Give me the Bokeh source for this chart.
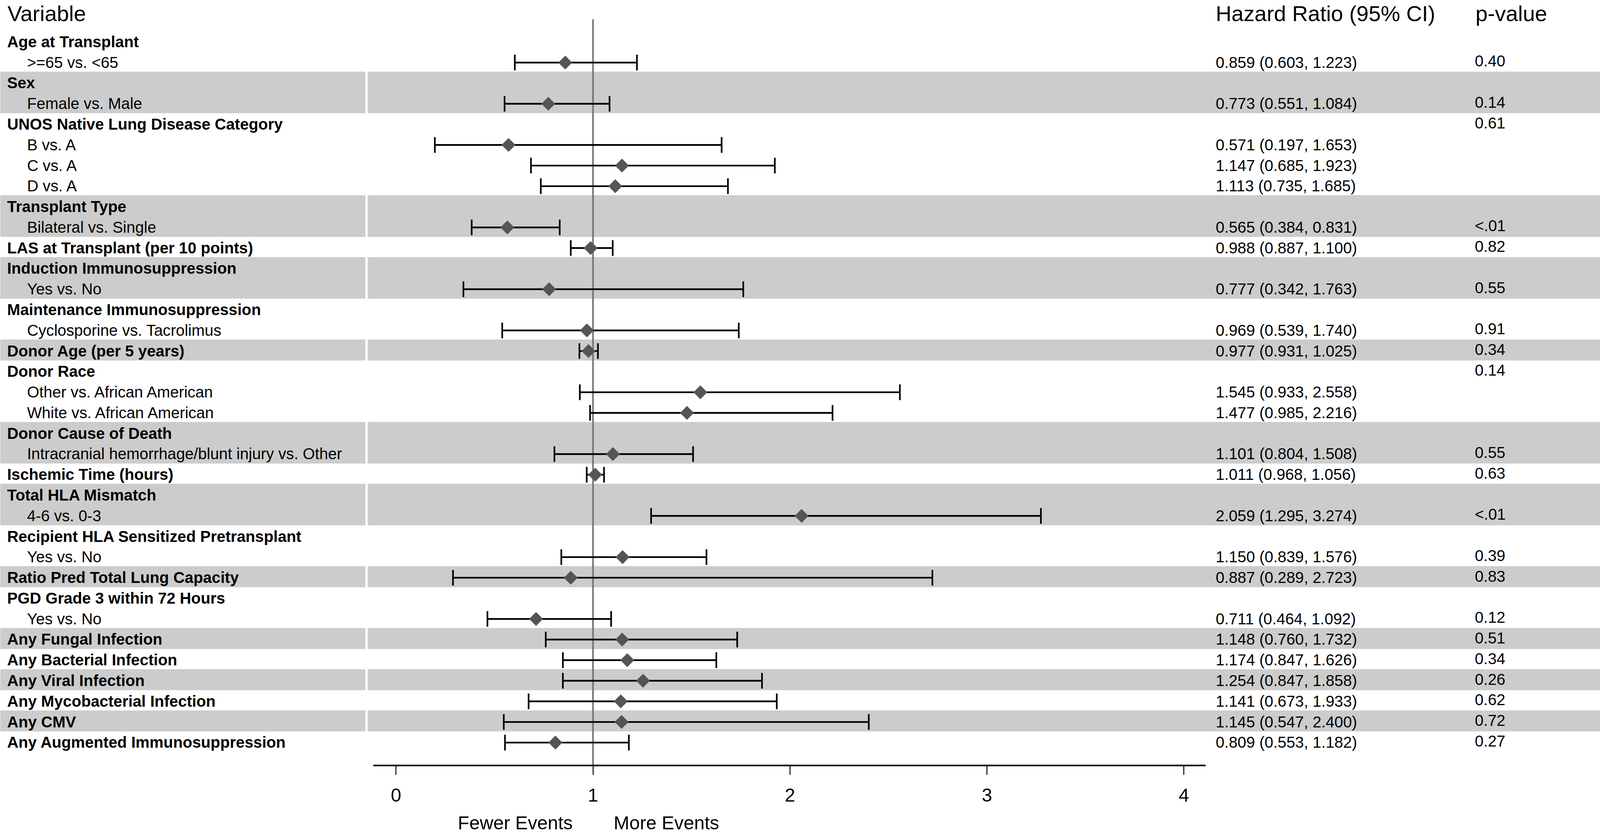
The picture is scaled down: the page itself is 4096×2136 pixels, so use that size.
import numpy as np
from bokeh.plotting import figure
from bokeh.models import ColumnDataSource, Range1d, LinearAxis, FixedTicker
from bokeh.core.properties import value
from bokeh.embed import file_html
from bokeh.resources import INLINE

# ---------------- data ----------------
row_labels = [
    "Age at Transplant", ">=65 vs. <65",
    "Sex", "Female vs. Male",
    "UNOS Native Lung Disease Category", "B vs. A", "C vs. A", "D vs. A",
    "Transplant Type", "Bilateral vs. Single",
    "LAS at Transplant (per 10 points)",
    "Induction Immunosuppression", "Yes vs. No",
    "Maintenance Immunosuppression", "Cyclosporine vs. Tacrolimus",
    "Donor Age (per 5 years)",
    "Donor Race", "Other vs. African American", "White vs. African American",
    "Donor Cause of Death", "Intracranial hemorrhage/blunt injury vs. Other",
    "Ischemic Time (hours)",
    "Total HLA Mismatch", "4-6 vs. 0-3",
    "Recipient HLA Sensitized Pretransplant", "Yes vs. No",
    "Ratio Pred Total Lung Capacity",
    "PGD Grade 3 within 72 Hours", "Yes vs. No",
    "Any Fungal Infection",
    "Any Bacterial Infection",
    "Any Viral Infection",
    "Any Mycobacterial Infection",
    "Any CMV",
    "Any Augmented Immunosuppression",
]
row_level = [0, 1, 0, 1, 0, 1, 1, 1, 0, 1, 0, 0, 1, 0, 1, 0, 0, 1, 1, 0, 1, 0,
             0, 1, 0, 1, 0, 0, 1, 0, 0, 0, 0, 0, 0]

est_rows = [1, 3, 5, 6, 7, 9, 10, 12, 14, 15, 17, 18, 20, 21, 23, 25, 26, 28,
            29, 30, 31, 32, 33, 34]
hr = [0.859, 0.773, 0.571, 1.147, 1.113, 0.565, 0.988, 0.777, 0.969, 0.977,
      1.545, 1.477, 1.101, 1.011, 2.059, 1.150, 0.887, 0.711, 1.148, 1.174,
      1.254, 1.141, 1.145, 0.809]
ci_lo = [0.603, 0.551, 0.197, 0.685, 0.735, 0.384, 0.887, 0.342, 0.539, 0.931,
         0.933, 0.985, 0.804, 0.968, 1.295, 0.839, 0.289, 0.464, 0.760, 0.847,
         0.847, 0.673, 0.547, 0.553]
ci_hi = [1.223, 1.084, 1.653, 1.923, 1.685, 0.831, 1.100, 1.763, 1.740, 1.025,
         2.558, 2.216, 1.508, 1.056, 3.274, 1.576, 2.723, 1.092, 1.732, 1.626,
         1.858, 1.933, 2.400, 1.182]

p_rows = [1, 3, 4, 9, 10, 12, 14, 15, 16, 20, 21, 23, 25, 26, 28, 29, 30, 31,
          32, 33, 34]
p_text = ["0.40", "0.14", "0.61", "<.01", "0.82", "0.55", "0.91", "0.34",
          "0.14", "0.55", "0.63", "<.01", "0.39", "0.83", "0.12", "0.51",
          "0.34", "0.26", "0.62", "0.72", "0.27"]

x_ticks = [0, 1, 2, 3, 4]
headers = ["Variable", "Hazard Ratio (95% CI)", "p-value"]
direction_labels = ["Fewer Events", "More Events"]

# ---------------- geometry (reference pixels -> data) ----------------
S = 0.981
W, H = 4096, 2136
FONT = "Liberation Sans"


def vx(xref):
    return (xref - 1033.0) / 514.0


def ky(yref):
    return (yref - 109.0) / 53.8


x_lo, x_hi = vx(0), vx(W / S)
y_top, y_bot = ky(0), ky(H / S)
axis_y = ky(1998.0)

p = figure(width=W, height=H, x_range=Range1d(x_lo, x_hi),
           y_range=Range1d(y_bot, y_top),
           x_axis_type=None, y_axis_type=None,
           toolbar_location=None, output_backend="svg",
           min_border=0, min_border_left=0, min_border_right=0,
           min_border_top=0, min_border_bottom=0,
           outline_line_color=None, background_fill_color="white",
           border_fill_color="white")

# ---------------- alternating bands ----------------
var_idx = np.cumsum([1 if l == 0 else 0 for l in row_level]) - 1
band_top, band_bot = [], []
n = len(row_labels)
r = 0
while r < n:
    e = r
    while e + 1 < n and row_level[e + 1] == 1:
        e += 1
    if var_idx[r] % 2 == 1:
        band_top.append(r - 0.56)
        band_bot.append(e + 0.46)
    r = e + 1
gap_l, gap_r = vx(953), vx(959)
nb = len(band_top)
bands = ColumnDataSource(dict(
    left=[x_lo] * nb + [gap_r] * nb,
    right=[gap_l] * nb + [x_hi] * nb,
    top=band_top * 2, bottom=band_bot * 2))
p.quad(left="left", right="right", top="top", bottom="bottom", source=bands,
       fill_color="#cccccc", line_color=None)

# ---------------- reference line ----------------
p.segment(x0=[1], x1=[1], y0=[ky(50)], y1=[axis_y], line_color="#777777",
          line_width=4.4 * S)

# ---------------- CIs and estimates ----------------
cap = 20.5 / 53.8
est = ColumnDataSource(dict(y=est_rows, hr=hr, lo=ci_lo, hi=ci_hi,
                            ytop=[v - cap for v in est_rows],
                            ybot=[v + cap for v in est_rows],
                            txt=[f"{a:.3f} ({b:.3f}, {c:.3f})"
                                 for a, b, c in zip(hr, ci_lo, ci_hi)]))
p.segment(x0="lo", x1="hi", y0="y", y1="y", source=est, line_color="black",
          line_width=4.5 * S)
p.segment(x0="lo", x1="lo", y0="ytop", y1="ybot", source=est,
          line_color="black", line_width=4.3 * S)
p.segment(x0="hi", x1="hi", y0="ytop", y1="ybot", source=est,
          line_color="black", line_width=4.3 * S)
p.scatter(x="hr", y="y", source=est, marker="square", angle=np.pi / 4,
          size=25.6 * S, fill_color="#555555", line_color=None)

# ---------------- texts ----------------
fs = 41 * S
lab = ColumnDataSource(dict(
    x=[vx(18) if l == 0 else vx(70) for l in row_level],
    y=list(range(n)), text=row_labels,
    style=["bold" if l == 0 else "normal" for l in row_level]))
p.text(x="x", y="y", text="text", source=lab, text_font=value(FONT),
       text_font_size=f"{fs:.1f}px", text_font_style="style",
       text_baseline="alphabetic", text_color="black")

p.text(x=vx(3172), y="y", text="txt", source=est, text_font=value(FONT),
       text_font_size=f"{fs:.1f}px", text_baseline="alphabetic",
       text_color="black")

pv = ColumnDataSource(dict(y=p_rows, text=p_text))
p.text(x=vx(3848), y="y", text="text", source=pv, text_font=value(FONT),
       text_font_size=f"{fs:.1f}px", text_baseline="alphabetic",
       y_offset=-4, text_color="black")

hs = 57 * S
hd = ColumnDataSource(dict(x=[vx(19), vx(3172), vx(3850)],
                           y=[ky(29.6)] * 3, text=headers))
p.text(x="x", y="y", text="text", source=hd, text_font=value(FONT),
       text_font_size=f"{hs:.1f}px", text_baseline="alphabetic",
       y_offset=5, text_color="black")

ds = 49 * S
dl = ColumnDataSource(dict(x=[vx(1494), vx(1601)], y=[ky(2147.5)] * 2,
                           text=direction_labels, align=["right", "left"]))
p.text(x="x", y="y", text="text", source=dl, text_align="align",
       text_font=value(FONT), text_font_size=f"{ds:.1f}px",
       text_baseline="alphabetic", y_offset=0, text_color="black")

# ---------------- axis ----------------
ax = LinearAxis(ticker=FixedTicker(ticks=x_ticks), bounds=(vx(973), vx(3146)),
                fixed_location=axis_y)
ax.axis_line_width = 4.3 * S
ax.axis_line_color = "black"
ax.major_tick_line_width = 2.5 * S
ax.major_tick_line_color = "black"
ax.major_tick_out = round(24 * S)
ax.major_tick_in = 0
ax.minor_tick_out = 0
ax.minor_tick_in = 0
ax.major_label_text_font = FONT
ax.major_label_text_font_size = f"{49 * S:.1f}px"
ax.major_label_text_color = "black"
ax.major_label_standoff = 35
p.add_layout(ax, "below")

open("out.html", "w").write(file_html(p, INLINE))
